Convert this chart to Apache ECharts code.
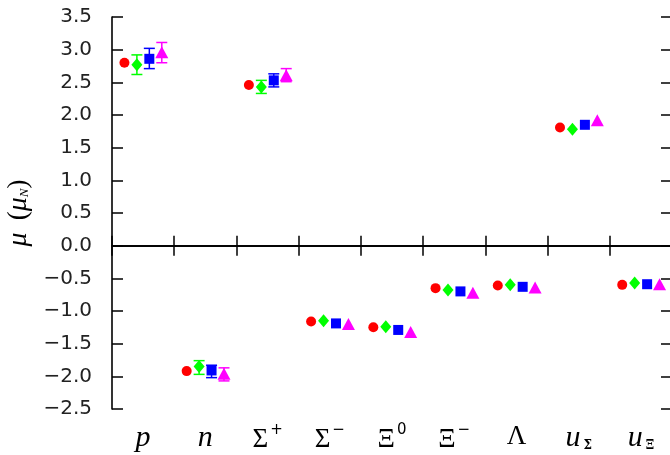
<!DOCTYPE html>
<html><head><meta charset="utf-8">
<script src="https://cdn.jsdelivr.net/npm/echarts@6/dist/echarts.min.js"></script>
<style>html,body{margin:0;padding:0;background:#fff}#c{width:670px;height:455px}</style>
</head><body><div id="c"></div>
<script>
const categories = ['{i|p}', '{i|n}', '{g|Σ}{sup|+}', '{g|Σ}{sup|−}', '{g|Ξ}{sup|0}', '{g|Ξ}{sup|−}', '{g|Λ}', '{i|u}{sub|Σ}', '{i|u}{sub|Ξ}'];
const yTicks = [-2.5, 3.5, 0.5];
// red: experiment
const redVals = [2.80, -1.92, 2.46, -1.16, -1.25, -0.65, -0.61, 1.81, -0.60];
// green diamonds
const greenVals = [2.77, -1.85, 2.43, -1.15, -1.24, -0.68, -0.60, 1.78, -0.57];
const greenLo = [2.62, -1.97, 2.33, null, null, null, null, null, null];
const greenHi = [2.92, -1.76, 2.53, null, null, null, null, null, null];
// blue squares
const blueVals = [2.86, -1.91, 2.53, -1.19, -1.29, -0.70, -0.63, 1.85, -0.59];
const blueLo = [2.71, -2.02, 2.43, null, null, null, null, null, null];
const blueHi = [3.02, -1.83, 2.63, null, null, null, null, null, null];
// magenta triangles
const magVals = [2.96, -1.96, 2.61, -1.20, -1.32, -0.72, -0.64, 1.92, -0.59];
const magLo = [2.80, -2.07, 2.51, null, null, null, null, null, null];
const magHi = [3.11, -1.87, 2.71, null, null, null, null, null, null];
const offsets = [-0.3, -0.1, 0.1, 0.3];

const chart = echarts.init(document.getElementById('c'));

function pts(vals, k) { return vals.map((v, i) => [i + 0.5 + offsets[k], v]); }
function errs(lo, hi, k) {
  const out = [];
  lo.forEach((l, i) => { if (l !== null) out.push([i + 0.5 + offsets[k], l, hi[i]]); });
  return out;
}
function errSeries(lo, hi, k, color) {
  return {
    type: 'custom', xAxisIndex: 2, yAxisIndex: 0, silent: true, z: 3,
    data: errs(lo, hi, k),
    renderItem: function (params, api) {
      const x = api.value(0);
      const a = api.coord([x, api.value(1)]);
      const b = api.coord([x, api.value(2)]);
      const w = 5.5;
      const st = { stroke: color, lineWidth: 1.5 };
      return { type: 'group', children: [
        { type: 'line', shape: { x1: a[0], y1: a[1], x2: b[0], y2: b[1] }, style: st },
        { type: 'line', shape: { x1: a[0] - w, y1: a[1], x2: a[0] + w, y2: a[1] }, style: st },
        { type: 'line', shape: { x1: b[0] - w, y1: b[1], x2: b[0] + w, y2: b[1] }, style: st }
      ]};
    }
  };
}

const axisLine = { show: true, lineStyle: { color: '#000', width: 1.6 } };
const rich = {
  i: { fontFamily: 'Liberation Serif', fontStyle: 'italic', fontSize: 30, color: '#000' },
  g: { fontFamily: 'Liberation Serif', fontSize: 27, color: '#000' },
  sup: { fontFamily: 'DejaVu Sans', fontSize: 15, color: '#000', padding: [0, 0, 18, 2] },
  sub: { fontFamily: 'DejaVu Serif', fontWeight: 'bold', fontSize: 12, color: '#000', padding: [16, 0, 0, 3] }
};

chart.setOption({
  animation: false,
  grid: { left: 112, top: 17, width: 560, height: 392, containLabel: false, outerBoundsMode: 'none' },
  xAxis: [
    { type: 'category', data: categories, position: 'bottom', boundaryGap: true,
      axisLine: axisLine, axisTick: { show: true, inside: true, interval: 0, length: 10, lineStyle: { color: '#000', width: 1.5 } },
      axisLabel: { show: true, interval: 0, margin: 14, rich: rich, formatter: v => v }, splitLine: { show: false } },
    { type: 'category', data: categories, position: 'top', boundaryGap: true,
      axisLine: axisLine, axisTick: { show: true, inside: true, interval: 0, length: 10, lineStyle: { color: '#000', width: 1.5 } },
      axisLabel: { show: false }, splitLine: { show: false } },
    { type: 'value', min: 0, max: 9, show: false }
  ],
  yAxis: [
    { type: 'value', min: yTicks[0], max: yTicks[1], interval: yTicks[2], position: 'left',
      name: '{m|μ}{g| }{p|(}{m|μ}{s|N}{p|)}', nameLocation: 'middle', nameGap: 76, nameRotate: 90,
      nameTextStyle: { rich: {
        m: { fontFamily: 'Liberation Serif', fontStyle: 'italic', fontSize: 28, color: '#000' },
        g: { fontSize: 28, width: 12 },
        p: { fontFamily: 'Liberation Serif', fontSize: 27, color: '#000' },
        s: { fontFamily: 'Liberation Serif', fontStyle: 'italic', fontSize: 13, color: '#000', padding: [12, 0, 0, 0] }
      } },
      axisLine: axisLine, axisTick: { show: true, inside: true, length: 11, lineStyle: { color: '#000', width: 1.5 } },
      axisLabel: { margin: 20, fontFamily: 'DejaVu Sans', fontSize: 20, color: '#222',
        formatter: v => (v < 0 ? '−' : '') + Math.abs(v).toFixed(1) },
      splitLine: { show: false } },
    { type: 'value', min: yTicks[0], max: yTicks[1], interval: yTicks[2], position: 'right',
      axisLine: axisLine, axisTick: { show: true, inside: true, length: 11, lineStyle: { color: '#000', width: 1.5 } },
      axisLabel: { show: false }, splitLine: { show: false } }
  ],
  series: [
    errSeries(greenLo, greenHi, 1, '#00ff00'),
    errSeries(blueLo, blueHi, 2, '#0000ff'),
    errSeries(magLo, magHi, 3, '#ff00ff'),
    { type: 'scatter', xAxisIndex: 2, yAxisIndex: 0, data: pts(redVals, 0), symbol: 'circle', symbolSize: 10,
      itemStyle: { color: '#ff0000', opacity: 1 }, z: 4,
      markLine: { silent: true, symbol: 'none', label: { show: false },
        lineStyle: { color: '#000', width: 1.5, type: 'solid' }, data: [{ yAxis: 0 }] } },
    { type: 'scatter', xAxisIndex: 2, yAxisIndex: 0, data: pts(greenVals, 1), symbol: 'diamond', symbolSize: [11, 13],
      itemStyle: { color: '#00ff00', opacity: 1 }, z: 4 },
    { type: 'scatter', xAxisIndex: 2, yAxisIndex: 0, data: pts(blueVals, 2), symbol: 'rect', symbolSize: 10,
      itemStyle: { color: '#0000ff', opacity: 1 }, z: 4 },
    { type: 'scatter', xAxisIndex: 2, yAxisIndex: 0, data: pts(magVals, 3), symbol: 'triangle', symbolSize: [13, 12],
      itemStyle: { color: '#ff00ff', opacity: 1 }, z: 4 }
  ]
});
</script></body></html>
